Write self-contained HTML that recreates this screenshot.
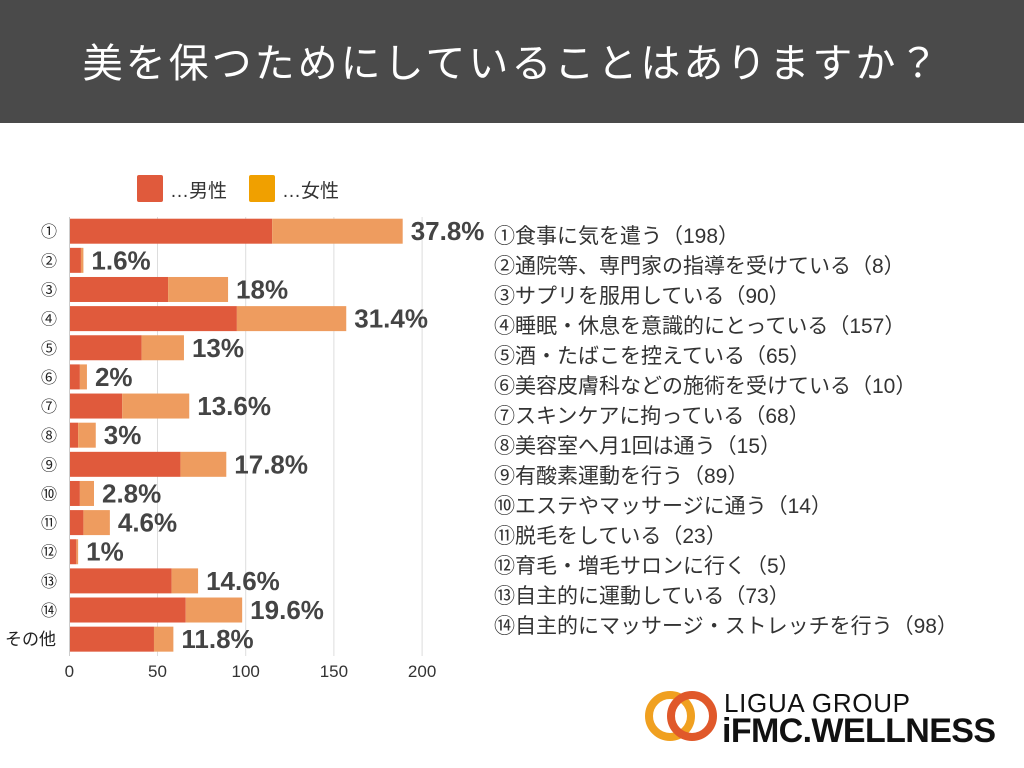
<!DOCTYPE html>
<html><head><meta charset="utf-8"><style>
body{margin:0;width:1024px;height:768px;background:#fff;font-family:"Liberation Sans","Noto Sans CJK JP",sans-serif;overflow:hidden;position:relative}
#hdr{position:absolute;left:0;top:0;width:1024px;height:123px;background:#4a4a4a;color:#fff;font-size:40px;text-align:center;line-height:128px;letter-spacing:3px}
#list{position:absolute;left:494px;top:222px;font-size:21px;color:#333;line-height:30px;white-space:nowrap}
#logo{position:absolute;left:640px;top:686px}
</style></head><body>
<div id="hdr">美を保つためにしていることはありますか？</div>
<svg id="chart" width="1024" height="768" style="position:absolute;left:0;top:0"></svg>
<div id="list">
<div>①食事に気を遣う（198）</div><div>②通院等、専門家の指導を受けている（8）</div><div>③サプリを服用している（90）</div><div>④睡眠・休息を意識的にとっている（157）</div><div>⑤酒・たばこを控えている（65）</div><div>⑥美容皮膚科などの施術を受けている（10）</div><div>⑦スキンケアに拘っている（68）</div><div>⑧美容室へ月1回は通う（15）</div><div>⑨有酸素運動を行う（89）</div><div>⑩エステやマッサージに通う（14）</div><div>⑪脱毛をしている（23）</div><div>⑫育毛・増毛サロンに行く（5）</div><div>⑬自主的に運動している（73）</div><div>⑭自主的にマッサージ・ストレッチを行う（98）</div>
</div>
<svg id="logo" width="370" height="60">
<circle cx="30" cy="30" r="21" fill="none" stroke="#f0a020" stroke-width="8"/>
<circle cx="52" cy="30" r="21" fill="none" stroke="#e0582a" stroke-width="8"/>
<text x="84" y="26" font-size="26" fill="#111" font-family="Liberation Sans" textLength="186">LIGUA GROUP</text>
<text x="82" y="56" font-size="34" font-weight="bold" fill="#111" font-family="Liberation Sans" textLength="274">iFMC.WELLNESS</text>
</svg>
<script>
const categories=["①","②","③","④","⑤","⑥","⑦","⑧","⑨","⑩","⑪","⑫","⑬","⑭","その他"];
const maleValues=[115,6.6,56,95,41,6,30,5,63,6,8,4,58,66,48];
const femaleValues=[74,1.4,34,62,24,4,38,10,26,8,15,1,15,32,11];
const pctLabels=["37.8%","1.6%","18%","31.4%","13%","2%","13.6%","3%","17.8%","2.8%","4.6%","1%","14.6%","19.6%","11.8%"];
const xTicks=[0,50,100,150,200];
const svg=document.getElementById('chart');const NS='http://www.w3.org/2000/svg';
const x=v=>69.3+v*1.764;const y=i=>218.7+i*29.14;const bh=25;
function mk(t,a,p){const e=document.createElementNS(NS,t);for(const k in a)e.setAttribute(k,a[k]);(p||svg).appendChild(e);return e;}
xTicks.forEach(t=>{if(t>0){const g=mk('line',{x1:x(t),x2:x(t),y1:217,y2:656,stroke:'#ddd','stroke-width':1});}
const tl=mk('text',{x:x(t),y:677,'text-anchor':'middle','font-size':17,fill:'#333'});tl.textContent=t;});
categories.forEach((c,i)=>{const cy=y(i);
const m=mk('rect',{x:x(0),y:cy,width:x(maleValues[i])-x(0),height:bh,fill:'#e05a3c'});
const f=mk('rect',{x:x(maleValues[i]),y:cy,width:x(maleValues[i]+femaleValues[i])-x(maleValues[i]),height:bh,fill:'#ee9c5f'});
const l=mk('text',{x:x(maleValues[i]+femaleValues[i])+8,y:cy+bh/2+9,'font-size':26,'font-weight':'bold',fill:'#444'});l.textContent=pctLabels[i];
const cl=mk('text',{x:c.length>1?56:49,y:cy+bh/2+6,'text-anchor':c.length>1?'end':'middle','font-size':c.length>1?17:16,fill:'#222'});cl.textContent=c;});
const ax=mk('line',{x1:69.5,x2:69.5,y1:217,y2:656,stroke:'#ccc','stroke-width':1});
[['#e05a3c','…男性',137],['#f0a000','…女性',249]].forEach(d=>{const r=mk('rect',{x:d[2],y:175,width:26,height:27,rx:2,fill:d[0]});
const t=mk('text',{x:d[2]+33,y:197,'font-size':19,fill:'#333'});t.textContent=d[1];});
</script>
</body></html>
